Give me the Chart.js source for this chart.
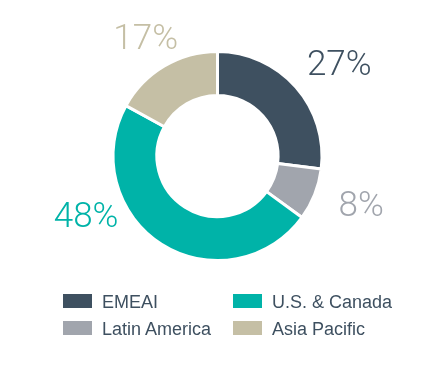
<!DOCTYPE html>
<html>
<head>
<meta charset="utf-8">
<script src="https://cdn.jsdelivr.net/npm/chart.js@4"></script>
<style>
  body { margin: 0; background: #fff; }
  #wrap { position: relative; width: 433px; height: 365px; }
  #legend { position: absolute; left: 63px; top: 292px; font-family: "Liberation Sans", Arial, sans-serif; font-size: 18px; color: #3e5060; }
  .item { position: absolute; white-space: nowrap; height: 20px; line-height: 20px; padding-left: 39px; }
  .box { position: absolute; left: 0; top: 2px; width: 29px; height: 14px; }
</style>
</head>
<body>
<div id="wrap">
  <canvas id="graph-regions" width="433" height="365"></canvas>
  <div id="legend"></div>
</div>
<script>
  const regions = ['EMEAI', 'Latin America', 'U.S. & Canada', 'Asia Pacific'];
  const shares = [27, 8, 48, 17];
  const colors = ['#3e5060', '#a1a5ad', '#00b3a8', '#c5bfa5'];

  // label placement: angle (deg clockwise from top) and distance relative to outer radius
  const labelPlace = [
    { angle: 53.5, dist: 1.45 },
    { angle: 109.6, dist: 1.46 },
    { angle: 244.8, dist: 1.39 },
    { angle: 328.1, dist: 1.30 }
  ];

  const outsideLabels = {
    id: 'outsideLabels',
    afterDraw(chart) {
      const ctx = chart.ctx;
      const meta = chart.getDatasetMeta(0);
      ctx.save();
      ctx.font = '300 35px Roboto, "Liberation Sans", sans-serif';
      ctx.textAlign = 'center';
      ctx.textBaseline = 'middle';
      meta.data.forEach((arc, i) => {
        const p = labelPlace[i];
        const a = p.angle * Math.PI / 180;
        const r = arc.outerRadius * p.dist;
        ctx.fillStyle = colors[i];
        ctx.fillText(shares[i] + '%', arc.x + Math.sin(a) * r, arc.y - Math.cos(a) * r);
      });
      ctx.restore();
    }
  };

  const config = {
    type: 'doughnut',
    data: {
      labels: regions,
      datasets: [{
        data: shares,
        backgroundColor: colors,
        borderColor: '#fff',
        borderWidth: 3,
        hoverOffset: 0
      }]
    },
    options: {
      responsive: false,
      animation: false,
      cutout: '58%',
      layout: { padding: { left: 111, right: 109, top: 50, bottom: 103 } },
      plugins: {
        legend: { display: false },
        tooltip: { enabled: false }
      }
    },
    plugins: [outsideLabels]
  };

  const ctx = document.getElementById('graph-regions').getContext('2d');
  new Chart(ctx, config);

  // legend, two columns: EMEAI / U.S. & Canada on top, Latin America / Asia Pacific below
  const legendOrder = [0, 2, 1, 3];
  const legend = document.getElementById('legend');
  legendOrder.forEach((idx, k) => {
    const el = document.createElement('div');
    el.className = 'item';
    el.style.left = (k % 2 === 0 ? 0 : 170) + 'px';
    el.style.top = (k < 2 ? 0 : 27) + 'px';
    el.innerHTML = '<span class="box" style="background:' + colors[idx] + '"></span>' + regions[idx];
    legend.appendChild(el);
  });
</script>
</body>
</html>
